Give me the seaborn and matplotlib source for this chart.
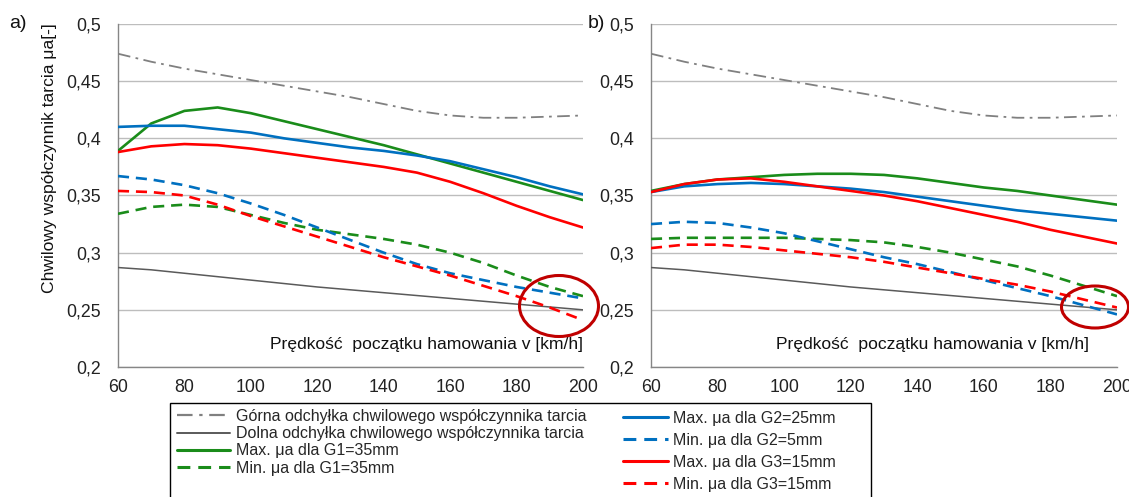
import numpy as np
import pandas as pd
import seaborn as sns
import matplotlib
matplotlib.use("Agg")
import matplotlib.pyplot as plt
from matplotlib.patches import Ellipse, Rectangle
from matplotlib.lines import Line2D

# ---------------- data ----------------
speed = [60, 70, 80, 90, 100, 110, 120, 130, 140, 150, 160, 170, 180, 190, 200]

upper_dev = [0.474, 0.467, 0.461, 0.456, 0.451, 0.446, 0.441, 0.436, 0.430, 0.424, 0.420, 0.418, 0.418, 0.419, 0.420]
lower_dev = [0.287, 0.285, 0.282, 0.279, 0.276, 0.273, 0.270, 0.2675, 0.265, 0.2625, 0.260, 0.2575, 0.255, 0.2525, 0.250]

a_g1_max = [0.389, 0.413, 0.424, 0.427, 0.422, 0.415, 0.408, 0.401, 0.394, 0.386, 0.378, 0.370, 0.362, 0.354, 0.346]
a_g1_min = [0.334, 0.340, 0.342, 0.340, 0.333, 0.326, 0.320, 0.316, 0.312, 0.307, 0.300, 0.291, 0.280, 0.270, 0.262]
a_g2_max = [0.410, 0.411, 0.411, 0.408, 0.405, 0.400, 0.396, 0.392, 0.389, 0.385, 0.380, 0.373, 0.366, 0.358, 0.351]
a_g2_min = [0.367, 0.364, 0.359, 0.352, 0.343, 0.333, 0.322, 0.311, 0.300, 0.290, 0.282, 0.276, 0.270, 0.265, 0.260]
a_g3_max = [0.388, 0.393, 0.395, 0.394, 0.391, 0.387, 0.383, 0.379, 0.375, 0.370, 0.362, 0.352, 0.341, 0.331, 0.322]
a_g3_min = [0.354, 0.353, 0.350, 0.342, 0.332, 0.323, 0.314, 0.305, 0.296, 0.288, 0.280, 0.271, 0.262, 0.252, 0.241]

b_g1_max = [0.354, 0.360, 0.364, 0.366, 0.368, 0.369, 0.369, 0.368, 0.365, 0.361, 0.357, 0.354, 0.350, 0.346, 0.342]
b_g1_min = [0.312, 0.313, 0.313, 0.313, 0.313, 0.312, 0.311, 0.309, 0.305, 0.300, 0.294, 0.288, 0.280, 0.271, 0.262]
b_g2_max = [0.353, 0.358, 0.360, 0.361, 0.360, 0.358, 0.356, 0.353, 0.349, 0.345, 0.341, 0.337, 0.334, 0.331, 0.328]
b_g2_min = [0.325, 0.327, 0.326, 0.322, 0.317, 0.310, 0.303, 0.296, 0.290, 0.283, 0.276, 0.269, 0.262, 0.254, 0.246]
b_g3_max = [0.353, 0.360, 0.364, 0.365, 0.362, 0.358, 0.354, 0.350, 0.345, 0.339, 0.333, 0.327, 0.320, 0.314, 0.308]
b_g3_min = [0.304, 0.307, 0.307, 0.305, 0.302, 0.299, 0.296, 0.292, 0.287, 0.282, 0.277, 0.272, 0.266, 0.259, 0.252]

series_labels = [
    "Górna odchyłka chwilowego współczynnika tarcia",
    "Dolna odchyłka chwilowego współczynnika tarcia",
    "Max. μa dla G1=35mm",
    "Min. μa dla G1=35mm",
    "Max. μa dla G2=25mm",
    "Min. μa dla G2=5mm",
    "Max. μa dla G3=15mm",
    "Min. μa dla G3=15mm",
]

x_ticks = [60, 80, 100, 120, 140, 160, 180, 200]
y_ticks = [0.2, 0.25, 0.3, 0.35, 0.4, 0.45, 0.5]
y_tick_labels = ["0,2", "0,25", "0,3", "0,35", "0,4", "0,45", "0,5"]

y_label = "Chwilowy współczynnik tarcia μa[-]"
x_label = "Prędkość  początku hamowania v [km/h]"

# ---------------- styles ----------------
GREEN = "#1a8c1a"
BLUE = "#0070c0"
RED = "#ff0000"
DASH = (0, (4.2, 2.6))
DASHDOT = (0, (7, 3, 1.5, 3))
styles = [
    dict(color="#808080", linestyle=DASHDOT, lw=1.3),
    dict(color="#5a5a5a", linestyle="-", lw=1.1),
    dict(color=GREEN, linestyle="-", lw=1.9),
    dict(color=GREEN, linestyle=DASH, lw=1.9),
    dict(color=BLUE, linestyle="-", lw=1.9),
    dict(color=BLUE, linestyle=DASH, lw=1.9),
    dict(color=RED, linestyle="-", lw=1.9),
    dict(color=RED, linestyle=DASH, lw=1.9),
]

panel_a = [upper_dev, lower_dev, a_g1_max, a_g1_min, a_g2_max, a_g2_min, a_g3_max, a_g3_min]
panel_b = [upper_dev, lower_dev, b_g1_max, b_g1_min, b_g2_max, b_g2_min, b_g3_max, b_g3_min]

sns.set_theme(style="white")
plt.rcParams['font.family'] = ['Liberation Sans', 'DejaVu Sans']

W, H = 1129, 497
fig = plt.figure(figsize=(W / 100, H / 100), dpi=100)
fig.patch.set_facecolor("white")

ax_a = fig.add_axes([118 / W, 1 - 367 / H, 465 / W, 343 / H])
ax_b = fig.add_axes([651 / W, 1 - 367 / H, 466 / W, 343 / H])

FS_TICK = 12.8
FS_LAB = 12.6
for ax, panel in [(ax_a, panel_a), (ax_b, panel_b)]:
    order = [0, 1, 3, 5, 7, 2, 4, 6]
    for i in order:
        st = styles[i]
        sns.lineplot(x=speed, y=panel[i], ax=ax, color=st["color"], linestyle=st["linestyle"],
                     lw=st["lw"], legend=False, zorder=3)
    ax.set_xlim(60, 200)
    ax.set_ylim(0.2, 0.5)
    ax.set_xticks(x_ticks)
    ax.set_xticklabels([str(v) for v in x_ticks], fontsize=FS_TICK, color="#222222")
    ax.set_yticks(y_ticks)
    ax.set_yticklabels(y_tick_labels, fontsize=FS_TICK, color="#222222")
    ax.yaxis.grid(True, color="#bdbdbd", lw=1)
    ax.xaxis.grid(False)
    ax.set_axisbelow(True)
    for s in ["top", "right"]:
        ax.spines[s].set_visible(False)
    for s in ["left", "bottom"]:
        ax.spines[s].set_color("#868686")
        ax.spines[s].set_linewidth(1)
    ax.tick_params(axis="x", direction="out", length=4, width=1, color="#868686", pad=5)
    ax.tick_params(axis="y", direction="out", length=4.5, width=1, color="#bdbdbd", pad=7.5)
    ax.set_xlabel("")
    ax.set_ylabel("")

ax_a.text(1.0, (367 - 344) / 343, x_label, transform=ax_a.transAxes, ha="right", va="center",
          fontsize=FS_LAB, color="#111111")
ax_b.text((1089 - 651) / 466, (367 - 344) / 343, x_label, transform=ax_b.transAxes, ha="right",
          va="center", fontsize=FS_LAB, color="#111111")

fig.text(50 / W, 1 - 158 / H, y_label, rotation=90, ha="center", va="center", fontsize=FS_LAB, color="#111111")
fig.text(9 / W, 1 - 24 / H, "a)", ha="left", va="center", fontsize=14, color="#111111")
fig.text(588 / W, 1 - 24 / H, "b)", ha="left", va="center", fontsize=14, color="#111111")

# highlight ellipses
ELC = "#c00000"
fig.add_artist(Ellipse((559 / W, 1 - 306 / H), 79 / W, 61 / H, transform=fig.transFigure,
                       fill=False, ec=ELC, lw=2.2, zorder=10))
fig.add_artist(Ellipse((1095 / W, 1 - 307 / H), 67 / W, 42 / H, transform=fig.transFigure,
                       fill=False, ec=ELC, lw=2.2, zorder=10))

# legend box
fig.add_artist(Rectangle((170 / W, -0.01), (871 - 170) / W, (497 - 403) / H + 0.01,
                         transform=fig.transFigure, fill=False, ec="black", lw=1))

handles = [Line2D([], [], color=st["color"], linestyle=st["linestyle"], lw=st["lw"] + 0.3) for st in styles]
FS_LEG = 11.5
fig.legend(handles[:4], series_labels[:4], loc="upper left", bbox_to_anchor=(177 / W, 1 - 409 / H),
           frameon=False, fontsize=FS_LEG, handlelength=3.3, labelspacing=0.14, borderaxespad=0,
           borderpad=0, handletextpad=0.42)
fig.legend(handles[4:], series_labels[4:], loc="upper left", bbox_to_anchor=(623 / W, 1 - 411 / H),
           frameon=False, fontsize=FS_LEG, handlelength=2.8, labelspacing=0.43, borderaxespad=0,
           borderpad=0, handletextpad=0.3)

fig.savefig("out.png", dpi=100, facecolor="white")
